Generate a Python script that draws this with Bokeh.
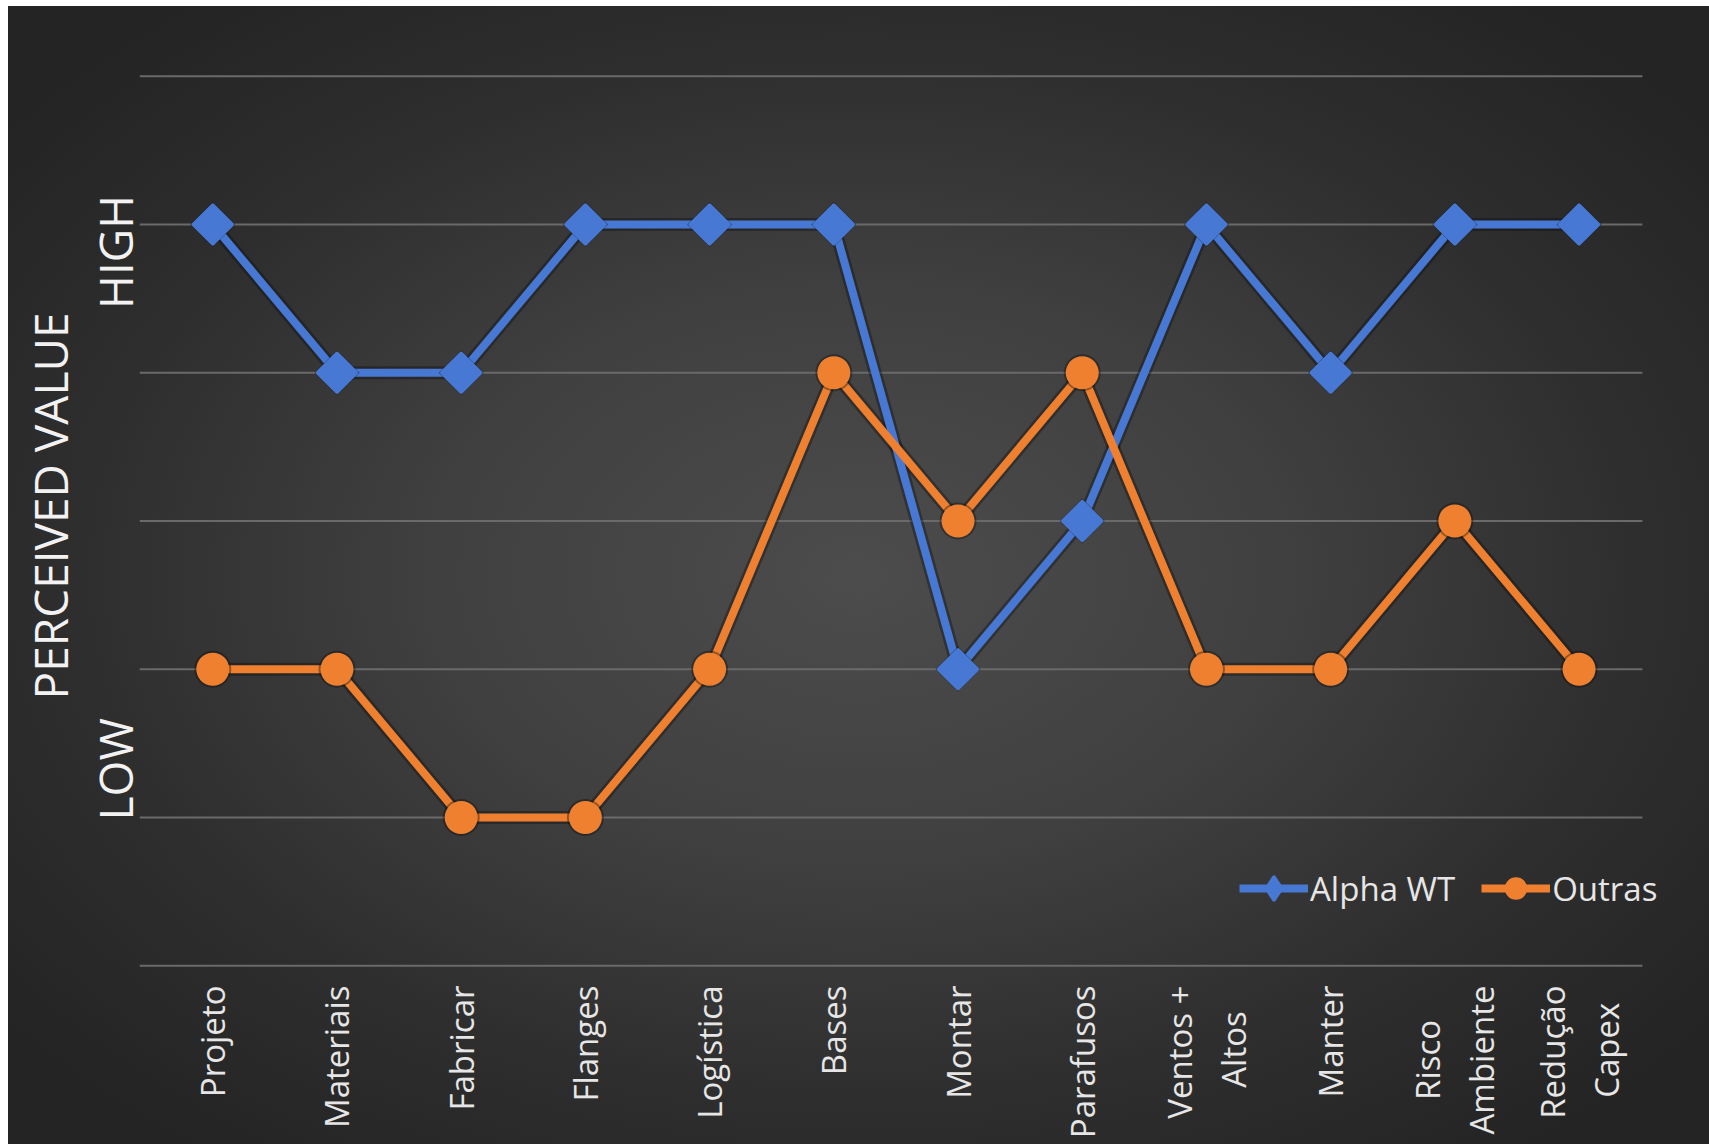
import math
from bokeh.plotting import figure
from bokeh.models import Range1d, FixedTicker, Legend, LegendItem
from bokeh.embed import file_html
from bokeh.resources import INLINE

# ---- data -------------------------------------------------------------
categories = ["Projeto", "Materiais", "Fabricar", "Flanges", "Logística", "Bases",
              "Montar", "Parafusos", "Ventos +\nAltos", "Manter",
              "Risco\nAmbiente", "Redução\nCapex"]
alpha_wt = [5, 4, 4, 5, 5, 5, 2, 3, 5, 4, 5, 5]
outras = [2, 2, 1, 1, 2, 4, 3, 4, 2, 2, 3, 2]
levels = [0, 1, 2, 3, 4, 5, 6]
series_names = ["Alpha WT", "Outras"]
scale_words = ["LOW", "HIGH"]
axis_title = "PERCEIVED VALUE"

# ---- styling ----------------------------------------------------------
W, H = 1709, 1144
BLUE = "#4778D3"
ORANGE = "#EE8030"
TEXT = "#E6E6E6"
FONT = "Open Sans"
X0, X1 = -0.59, 11.51          # horizontal extent of the plotting area
CAPTION_POS = [1.67, 5.20]     # upper ends of the LOW / HIGH captions
NB = "\u00a0"

def centred(label):
    """Pad the shorter line of a two-line tick label so both lines sit centred."""
    pads = {"Altos": 3, "Risco": 4, "Capex": 2}
    return "\n".join(l + NB * pads.get(l, 0) for l in label.split("\n"))

xs = list(range(len(categories)))

p = figure(width=W, height=H, output_backend="svg", toolbar_location=None,
           x_range=Range1d(X0, 12.05), y_range=Range1d(-0.012, 6.214),
           min_border_left=139, min_border_right=0,
           min_border_top=44, min_border_bottom=177,
           border_fill_color=None, background_fill_color=None,
           outline_line_color=None)

# dark radial backdrop behind the transparent canvas
p.styles = {
    "background": "radial-gradient(ellipse farthest-corner at 50% 50%, "
                  "#4c4c4c 0%, #404040 35%, #2e2e2e 65%, #242424 90%) "
                  "8px 6px / calc(100% - 8px) calc(100% - 6px) no-repeat, #ffffff",
}

# horizontal gridlines across the plotting area only
p.grid.visible = False
p.segment(x0=[X0] * len(levels), x1=[X1] * len(levels), y0=levels, y1=levels,
          line_color="#6a6a6a", line_width=2)

# category axis
xa = p.xaxis[0]
xa.ticker = FixedTicker(ticks=xs)
xa.major_label_overrides = {i: centred(c) for i, c in enumerate(categories)}
xa.major_label_orientation = math.pi / 2
xa.axis_line_color = None
xa.major_tick_line_color = None
xa.minor_tick_line_color = None
xa.major_tick_out = 0
xa.major_tick_in = 0
xa.major_label_standoff = 18
xa.major_label_text_font = FONT
xa.major_label_text_font_size = "33px"
xa.major_label_text_color = TEXT

# value axis: only the LOW / HIGH captions and the title
ya = p.yaxis[0]
ya.ticker = FixedTicker(ticks=CAPTION_POS)
ya.major_label_overrides = {CAPTION_POS[0]: scale_words[0],
                            CAPTION_POS[1]: scale_words[1]}
ya.major_label_orientation = math.pi / 2
ya.axis_line_color = None
ya.major_tick_line_color = None
ya.minor_tick_line_color = None
ya.major_tick_out = 0
ya.major_tick_in = 0
ya.major_label_standoff = 24
ya.major_label_text_font = FONT
ya.major_label_text_font_size = "46px"
ya.major_label_text_color = "#F2F2F2"
ya.axis_label = axis_title
ya.axis_label_standoff = -30
ya.axis_label_text_font = FONT
ya.axis_label_text_font_size = "46px"
ya.axis_label_text_font_style = "normal"
ya.axis_label_text_color = "#F2F2F2"

# series: soft dark shadow under each line, then the line and markers
for ys in (alpha_wt, outras):
    p.line(xs, ys, line_color="#101010", line_alpha=0.4, line_width=13,
           line_join="round")

r_blue_line = p.line(xs, alpha_wt, line_color=BLUE, line_width=8, line_join="round")
p.scatter(xs, alpha_wt, marker="square", angle=math.pi / 4, size=32,
          fill_color="#101010", fill_alpha=0.4, line_color=None)
p.scatter(xs, alpha_wt, marker="square", angle=math.pi / 4, size=27,
          fill_color=BLUE, line_color=BLUE, line_width=4, line_join="round")

r_or_line = p.line(xs, outras, line_color=ORANGE, line_width=8, line_join="round")
p.scatter(xs, outras, marker="circle", size=37, fill_color="#101010",
          fill_alpha=0.4, line_color=None)
r_or_pts = p.scatter(xs, outras, marker="circle", size=33, fill_color=ORANGE,
                     line_color=None)

# legend key for the blue series: a diamond on the line (not drawn in the plot)
key_blue = p.scatter(xs, alpha_wt, marker="diamond", size=27, fill_color=BLUE,
                     line_color=BLUE, line_width=4, line_join="round",
                     visible=False)

legend = Legend(items=[
    LegendItem(label=series_names[0], renderers=[r_blue_line, key_blue]),
    LegendItem(label=series_names[1], renderers=[r_or_line, r_or_pts]),
], orientation="horizontal", location=(1100, 51))
legend.background_fill_alpha = 0
legend.border_line_color = None
legend.inactive_fill_alpha = 0
legend.padding = 0
legend.margin = 0
legend.glyph_width = 69
legend.glyph_height = 56
legend.label_height = 56
legend.label_standoff = 2
legend.spacing = 26
legend.label_text_font = FONT
legend.label_text_font_size = "33px"
legend.label_text_color = TEXT
p.add_layout(legend)

open("out.html", "w").write(file_html(p, INLINE))
